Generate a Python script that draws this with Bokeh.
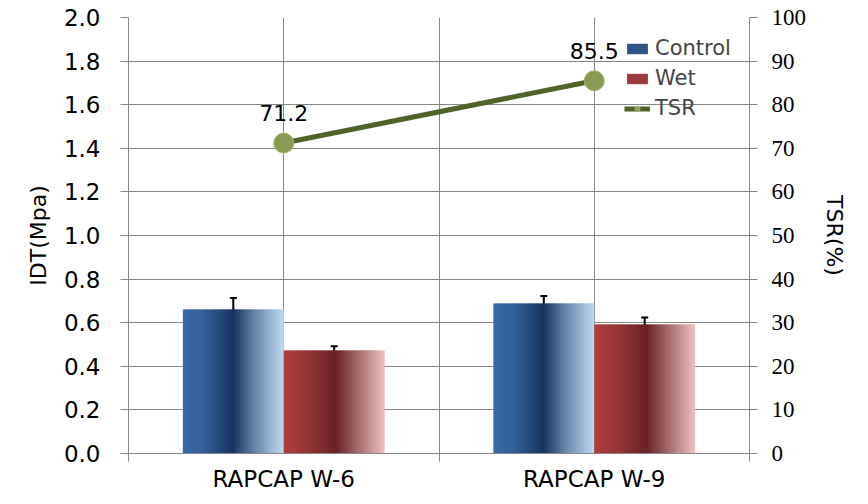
from bokeh.plotting import figure
from bokeh.models import (Range1d, LinearAxis, FixedTicker, NumeralTickFormatter,
                          ColumnDataSource, Whisker, TeeHead, Legend, LegendItem)
from bokeh.core.properties import value
from bokeh.embed import file_html
from bokeh.resources import INLINE

categories = ["RAPCAP W-6", "RAPCAP W-9"]
control = [0.66, 0.688]
control_err = [0.053, 0.035]
wet = [0.472, 0.592]
wet_err = [0.02, 0.032]
tsr = [71.2, 85.5]
left_ticks = [0.0, 0.2, 0.4, 0.6, 0.8, 1.0, 1.2, 1.4, 1.6, 1.8, 2.0]
right_ticks = [0, 10, 20, 30, 40, 50, 60, 70, 80, 90, 100]

SANS = "DejaVu Sans"
SERIF = "Liberation Serif"
GRID = "#868686"

p = figure(width=868, height=504, output_backend="svg", toolbar_location=None,
           x_range=Range1d(0, len(categories)), y_range=Range1d(0, 2.0),
           min_border_left=128, min_border_right=119, min_border_top=17, min_border_bottom=51)
p.extra_y_ranges = {"tsr": Range1d(0, 100)}
p.outline_line_color = None
p.background_fill_color = "white"
p.border_fill_color = "white"

centers = [i + 0.5 for i in range(len(categories))]
bw = 0.325


def lerp(c1, c2, t):
    return tuple(int(round(a + (b - a) * t)) for a, b in zip(c1, c2))


def grad_color(stops, t):
    for (t0, c0), (t1, c1) in zip(stops, stops[1:]):
        if t <= t1:
            return "#%02x%02x%02x" % lerp(c0, c1, (t - t0) / (t1 - t0))
    return "#%02x%02x%02x" % stops[-1][1]


blue_stops = [(0.0, (58, 106, 168)), (0.2, (52, 96, 154)), (0.5, (24, 52, 96)),
              (0.72, (104, 136, 172)), (1.0, (192, 218, 242))]
red_stops = [(0.0, (178, 62, 62)), (0.25, (146, 52, 52)), (0.52, (106, 34, 38)),
             (0.75, (170, 112, 112)), (1.0, (238, 194, 194))]

N = 50


def gradient_bars(vals, offset, stops):
    L, R, T, C = [], [], [], []
    for c, v in zip(centers, vals):
        x0 = c + offset
        for i in range(N):
            L.append(x0 + bw * i / N)
            R.append(x0 + bw * min(i + 1.8, N) / N)
            T.append(v)
            C.append(grad_color(stops, (i + 0.5) / N))
    src = ColumnDataSource(dict(left=L, right=R, top=T, color=C))
    return p.quad(left="left", right="right", bottom=0, top="top", fill_color="color",
                  line_color=None, source=src)


gradient_bars(control, -bw, blue_stops)
gradient_bars(wet, 0.0, red_stops)

# error bars
for vals, errs, off in [(control, control_err, -bw / 2), (wet, wet_err, bw / 2)]:
    src = ColumnDataSource(dict(x=[c + off for c in centers],
                                lo=[v - e for v, e in zip(vals, errs)],
                                hi=[v + e for v, e in zip(vals, errs)]))
    w = Whisker(base="x", lower="lo", upper="hi", source=src, line_color="black", line_width=2,
                upper_head=TeeHead(size=7, line_color="black", line_width=2),
                lower_head=TeeHead(size=7, line_color="black", line_width=2))
    p.add_layout(w)

# TSR line
tsr_src = ColumnDataSource(dict(x=centers, y=tsr, lab=[f"{v:.1f}" for v in tsr]))
ln = p.line("x", "y", source=tsr_src, y_range_name="tsr", line_color="#4f6228", line_width=5)
mk = p.scatter("x", "y", source=tsr_src, y_range_name="tsr", size=20, marker="circle",
               fill_color="#8b9b55", line_color="#a9b66f", line_width=1)
p.text("x", "y", text="lab", source=tsr_src, y_range_name="tsr", y_offset=-30,
       text_align="center", text_baseline="alphabetic", text_font=value(SANS),
       text_font_size="22px", text_color="black")

# legend dummies
lc = p.quad(left=[0], right=[0], bottom=[0], top=[0], fill_color="#2f5488", line_color=None)
lw = p.quad(left=[0], right=[0], bottom=[0], top=[0], fill_color="#9a3a3c", line_color=None)
leg = Legend(items=[LegendItem(label="Control", renderers=[lc]),
                    LegendItem(label="Wet", renderers=[lw]),
                    LegendItem(label="TSR", renderers=[ln, mk])],
             location=(494, 331), orientation="vertical",
             glyph_width=26, glyph_height=13, label_height=24, spacing=6,
             padding=2, margin=0, label_standoff=5,
             label_text_font=SANS, label_text_font_size="21px",
             background_fill_alpha=0, border_line_alpha=0)
p.add_layout(leg)

# axes
yl = p.yaxis[0]
yl.ticker = FixedTicker(ticks=left_ticks)
yl.formatter = NumeralTickFormatter(format="0.0")
yl.axis_label = "IDT(Mpa)"

yr = LinearAxis(y_range_name="tsr", ticker=FixedTicker(ticks=right_ticks), axis_label="TSR(%)")
p.add_layout(yr, "right")

xa = p.xaxis[0]
xa.ticker = FixedTicker(ticks=centers, minor_ticks=[0, 1, 2])
xa.major_label_overrides = {c: n for c, n in zip(centers, categories)}

for ax in [yl, yr, xa]:
    ax.axis_line_color = GRID
    ax.major_tick_line_color = GRID
    ax.minor_tick_line_color = GRID
    ax.major_tick_in = 0
    ax.minor_tick_in = 0
    ax.major_label_text_color = "black"
    ax.major_label_text_font_size = "23px"
    ax.major_label_text_font = SANS
    ax.axis_label_text_font = SANS
    ax.axis_label_text_font_size = "22px"
    ax.axis_label_text_font_style = "normal"
    ax.axis_label_text_color = "black"

yl.major_tick_out = 8
yl.minor_tick_out = 0
yl.major_label_standoff = 20
yl.axis_label_standoff = 10
yr.major_tick_out = 8
yr.minor_tick_out = 0
yr.major_label_text_font = SERIF
yr.major_label_standoff = 14
yr.axis_label_standoff = 13
xa.major_tick_out = 0
xa.minor_tick_out = 8
xa.major_label_standoff = 4

p.ygrid.ticker = FixedTicker(ticks=left_ticks)
p.ygrid.grid_line_color = GRID
p.xgrid.ticker = FixedTicker(ticks=[0.5, 1.0, 1.5])
p.xgrid.grid_line_color = GRID

open("out.html", "w").write(file_html(p, INLINE))
